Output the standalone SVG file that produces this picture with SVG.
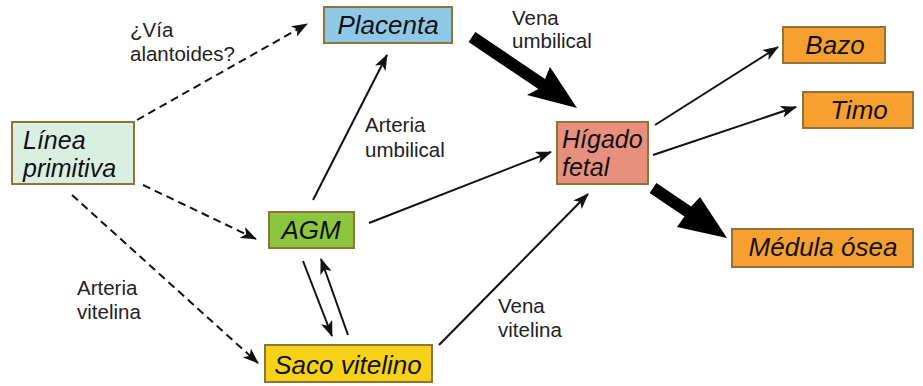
<svg xmlns="http://www.w3.org/2000/svg" width="923" height="386" viewBox="0 0 923 386">
<defs>
<style>
.box{stroke:#8f7338;stroke-width:2}
.node{font-family:"Liberation Sans",Arial,sans-serif;font-style:italic;font-size:26px;fill:#111}
.two{font-size:25px}
.lbl{font-family:"Liberation Sans",Arial,sans-serif;font-size:20.5px;fill:#222}
.ln{fill:none;stroke:#111;stroke-width:2}
.dash{stroke-dasharray:8 5}
.thick{fill:#000}
</style>
<marker id="ah" viewBox="0 0 16 12" refX="15" refY="6" markerWidth="16" markerHeight="12" markerUnits="userSpaceOnUse" orient="auto">
<path d="M0,0 L16,6 L0,12 L4,6 Z" fill="#111"/>
</marker>
</defs>
<rect width="923" height="386" fill="#fff"/>
<g id="connectors">
<line class="ln dash" x1="137" y1="120" x2="307" y2="24" marker-end="url(#ah)"/>
<line class="ln dash" x1="143" y1="185" x2="256" y2="239" marker-end="url(#ah)"/>
<line class="ln dash" x1="72" y1="195" x2="258" y2="363" marker-end="url(#ah)"/>
<line class="ln" x1="313" y1="200" x2="387" y2="55" marker-end="url(#ah)"/>
<line class="ln" x1="369" y1="223" x2="551" y2="152" marker-end="url(#ah)"/>
<line class="ln" x1="439" y1="345" x2="588" y2="194" marker-end="url(#ah)"/>
<line class="ln" x1="303" y1="261" x2="332" y2="336" marker-end="url(#ah)"/>
<line class="ln" x1="348" y1="335" x2="321" y2="259" marker-end="url(#ah)"/>
<line class="ln" x1="655" y1="125" x2="778" y2="47" marker-end="url(#ah)"/>
<line class="ln" x1="653" y1="155" x2="796" y2="107" marker-end="url(#ah)"/>
<polygon class="thick" points="475.4,32 545,79 550,67 577,108 527,95 538.3,89 468.6,42"/>
<polygon class="thick" points="656.4,183 691.2,206.5 700,197 727,238 677,227 684.5,216.5 649.6,193"/>
</g>
<g id="labels">
<text class="lbl" x="130" y="37">¿Vía<tspan x="130" y="61">alantoides?</tspan></text>
<text class="lbl" x="365" y="132">Arteria<tspan x="365" y="157">umbilical</tspan></text>
<text class="lbl" x="512" y="25">Vena<tspan x="512" y="48">umbilical</tspan></text>
<text class="lbl" x="77" y="295">Arteria<tspan x="77" y="319">vitelina</tspan></text>
<text class="lbl" x="498" y="313">Vena<tspan x="498" y="337">vitelina</tspan></text>
</g>
<g id="placenta">
<rect class="box" x="324" y="7" width="128" height="36" fill="#8fc8e6"/>
<text class="node" x="388" y="34" text-anchor="middle">Placenta</text>
</g>
<g id="linea-primitiva">
<rect class="box" x="12" y="122" width="122" height="62" fill="#d9efe2"/>
<text class="node two" x="23" y="149">Línea<tspan x="23" y="177">primitiva</tspan></text>
</g>
<g id="higado-fetal">
<rect class="box" x="557" y="122" width="91" height="62" fill="#e8907e"/>
<text class="node two" x="562" y="148">Hígado<tspan x="562" y="176">fetal</tspan></text>
</g>
<g id="agm">
<rect class="box" x="269" y="212" width="85" height="36" fill="#8cc63f"/>
<text class="node" x="311" y="239" text-anchor="middle">AGM</text>
</g>
<g id="saco-vitelino">
<rect class="box" x="265" y="345" width="167" height="37" fill="#f7d117"/>
<text class="node" x="348" y="374" text-anchor="middle">Saco vitelino</text>
</g>
<g id="bazo">
<rect class="box" x="783" y="27" width="102" height="36" fill="#f7a030"/>
<text class="node" x="835" y="54" text-anchor="middle">Bazo</text>
</g>
<g id="timo">
<rect class="box" x="803" y="92" width="110" height="36" fill="#f7a030"/>
<text class="node" x="859" y="119" text-anchor="middle">Timo</text>
</g>
<g id="medula-osea">
<rect class="box" x="732" y="229" width="181" height="38" fill="#f7a030"/>
<text class="node" x="823" y="256" text-anchor="middle">Médula ósea</text>
</g>
</svg>
